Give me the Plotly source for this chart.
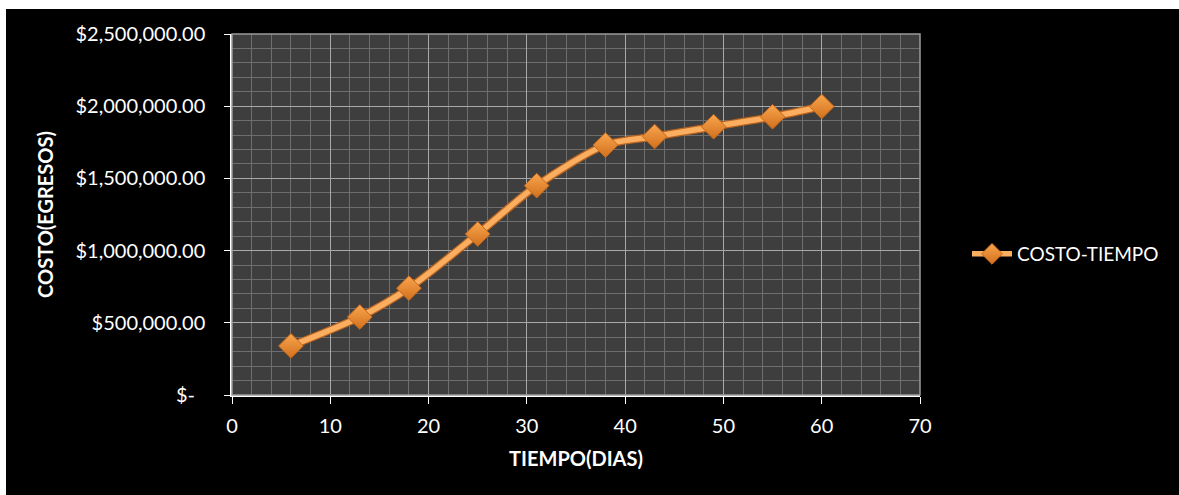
import plotly.graph_objects as go

dias = [6, 13, 18, 25, 31, 38, 43, 49, 55, 60]
costo = [340000, 540000, 740000, 1115000, 1450000, 1731000, 1790000, 1858000, 1927000, 1998000]
serie = "COSTO-TIEMPO"
y_tickvals = [0, 500000, 1000000, 1500000, 2000000, 2500000]
y_ticktext = ["$-\u00a0\u00a0", "$500,000.00", "$1,000,000.00", "$1,500,000.00", "$2,000,000.00", "$2,500,000.00"]
x_tickvals = [0, 10, 20, 30, 40, 50, 60, 70]

W, H = 1179, 495
L, R, T, B = 232, 259, 34, 100
pw, ph = W - L - R, H - T - B

def px_x(p):
    return (p - L) / pw

def px_y(p):
    return (H - B - p) / ph

FONT = "Lato"

fig = go.Figure()
# shadow under the line
fig.add_trace(go.Scatter(
    x=dias, y=costo, mode="lines", line=dict(color="#B86420", width=8, shape="spline", smoothing=0.8),
    showlegend=False, hoverinfo="skip"))
fig.add_trace(go.Scatter(
    x=dias, y=costo, mode="lines+markers", name=serie,
    line=dict(color="#FBAE60", width=5.5, shape="spline", smoothing=0.8),
    marker=dict(symbol="diamond", size=19, color="#F9A54E",
                gradient=dict(type="vertical", color="#D2701C"),
                line=dict(color="#C8681A", width=1))))

fig.update_layout(
    width=W, height=H,
    margin=dict(l=L, r=R, t=T, b=B),
    paper_bgcolor="black",
    plot_bgcolor="#3e3e3e",
    font=dict(family=FONT, color="white", size=19),
    showlegend=True,
    legend=dict(x=px_x(967), y=px_y(254), xanchor="left", yanchor="middle",
                font=dict(family=FONT, size=19, color="white"), bgcolor="rgba(0,0,0,0)",
                itemwidth=40),
    xaxis=dict(range=[0, 70], tickvals=x_tickvals, showgrid=True, gridcolor="#a8a8a8", gridwidth=1,
               minor=dict(dtick=2, showgrid=True, gridcolor="#6e6e6e", gridwidth=1),
               showline=True, linecolor="white", linewidth=1.5, ticks="outside", ticklen=7,
               tickcolor="white", tickfont=dict(size=20, family=FONT), zeroline=False,
               ticklabelstandoff=5,
               title=dict(text="<b>TIEMPO(DIAS)</b>", font=dict(size=20, family=FONT), standoff=16)),
    yaxis=dict(range=[0, 2500000], tickvals=y_tickvals, ticktext=y_ticktext, showgrid=True,
               gridcolor="#a8a8a8", gridwidth=1,
               minor=dict(dtick=100000, showgrid=True, gridcolor="#6e6e6e", gridwidth=1),
               showline=True, linecolor="white", linewidth=1.5, ticks="outside", ticklen=6,
               tickcolor="white", tickfont=dict(size=20, family=FONT), zeroline=False,
               ticklabelstandoff=15,
               title=dict(text="<b>COSTO(EGRESOS)</b>", font=dict(size=20, family=FONT), standoff=16)),
    shapes=[
        dict(type="rect", xref="paper", yref="paper", x0=0, x1=1, y0=0, y1=1,
             line=dict(color="#9a9a9a", width=1.5), layer="above"),
        dict(type="rect", xref="paper", yref="paper", x0=px_x(-2), x1=px_x(6), y0=px_y(H + 2), y1=px_y(-2),
             line=dict(width=0), fillcolor="white", layer="above"),
        dict(type="rect", xref="paper", yref="paper", x0=px_x(-2), x1=px_x(W + 2), y0=px_y(9), y1=px_y(-2),
             line=dict(width=0), fillcolor="white", layer="above"),
    ],
)

fig.write_html("out.html", config={"displayModeBar": False},
               post_script="document.body.style.margin='0px';document.body.style.padding='0px';")
